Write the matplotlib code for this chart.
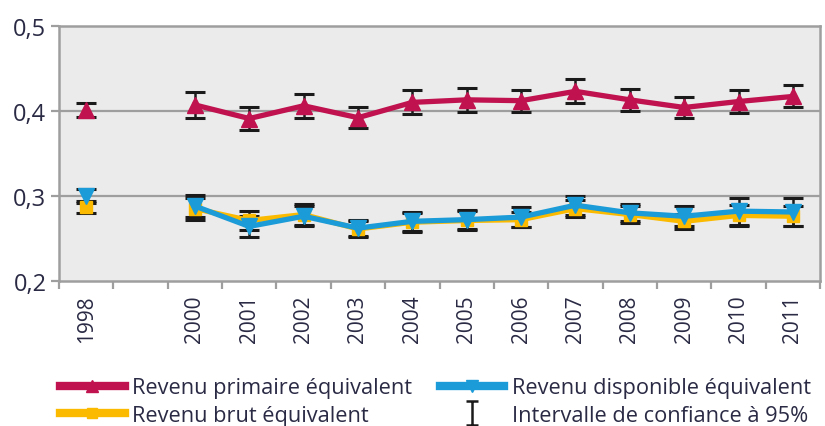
import numpy as np
import matplotlib.pyplot as plt
from matplotlib.lines import Line2D
from matplotlib.path import Path

plt.rcParams['font.family'] = ['Open Sans', 'DejaVu Sans']

nan = np.nan

# années (1999 absente : case vide)
years = ['1998', '', '2000', '2001', '2002', '2003', '2004', '2005',
         '2006', '2007', '2008', '2009', '2010', '2011']

primaire = [0.401, nan, 0.407, 0.391, 0.406, 0.392, 0.410, 0.413,
            0.412, 0.423, 0.413, 0.404, 0.411, 0.417]
primaire_err = [0.008, nan, 0.015, 0.013, 0.014, 0.012, 0.014, 0.014,
                0.013, 0.014, 0.013, 0.012, 0.013, 0.013]

brut = [0.287, nan, 0.285, 0.271, 0.278, 0.261, 0.269, 0.271,
        0.272, 0.285, 0.278, 0.270, 0.277, 0.276]
brut_err = [0.007, nan, 0.013, 0.011, 0.012, 0.009, 0.011, 0.011,
            0.009, 0.010, 0.010, 0.009, 0.012, 0.012]

dispo = [0.300, nan, 0.288, 0.264, 0.276, 0.262, 0.270, 0.272,
         0.275, 0.289, 0.280, 0.276, 0.282, 0.281]
dispo_err = [0.008, nan, 0.013, 0.012, 0.012, 0.009, 0.011, 0.011,
             0.012, 0.011, 0.010, 0.012, 0.016, 0.016]

labels = ['Revenu primaire équivalent', 'Revenu brut équivalent',
          'Revenu disponible équivalent', 'Intervalle de confiance à 95%']

c_red = '#C0124E'
c_yel = '#FBBA00'
c_blu = '#1B9BD7'
c_grid = '#9E9E9E'
c_txt = '#2A2A45'

fig = plt.figure(figsize=(8.25, 4.27), dpi=100)
ax = fig.add_axes([0.0715, 0.34, 0.9225, 0.597])
ax.set_facecolor('#EBEBEB')

x = np.arange(len(years))

# barres d'erreur sous les courbes
eb = dict(fmt='none', ecolor='#1A1A1A', elinewidth=1.8, capsize=7, capthick=2.2, zorder=2)
ax.errorbar(x, brut, yerr=brut_err, **eb)
ax.errorbar(x, dispo, yerr=dispo_err, **eb)
ax.errorbar(x, primaire, yerr=primaire_err, **eb)

ax.plot(x, brut, color=c_yel, lw=3.8, marker='s', ms=9, zorder=3)
ax.plot(x, dispo, color=c_blu, lw=3.8, marker='v', ms=11, zorder=4)
ax.plot(x, primaire, color=c_red, lw=3.8, marker='^', ms=11, zorder=4)

ax.set_xlim(-0.5, len(years) - 0.5)
ax.set_ylim(0.2, 0.5)
ax.set_yticks([0.2, 0.3, 0.4, 0.5])
ax.set_yticklabels(['0,2', '0,3', '0,4', '0,5'])
for yv in [0.3, 0.4]:
    ax.axhline(yv, color=c_grid, lw=1.6, zorder=1)

# graduations aux limites des catégories, libellés centrés
ax.set_xticks(np.arange(len(years) + 1) - 0.5)
ax.set_xticklabels([])
ax.set_xticks(x, minor=True)
ax.set_xticklabels(years, minor=True, rotation=90)
ax.tick_params(axis='x', which='minor', length=0, pad=10, labelsize=15, labelcolor=c_txt)
ax.tick_params(axis='x', which='major', length=6, width=1.6, color=c_grid)
ax.tick_params(axis='y', length=6, width=1.6, color=c_grid, labelsize=17, labelcolor=c_txt, pad=3)

for s in ax.spines.values():
    s.set_color(c_grid)
    s.set_linewidth(1.8)

# symbole de l'intervalle de confiance pour la légende
ibar = Path([(-0.5, 1), (0.5, 1), (0, 1), (0, -1), (-0.5, -1), (0.5, -1)],
            [Path.MOVETO, Path.LINETO, Path.MOVETO, Path.LINETO, Path.MOVETO, Path.LINETO])

handles = [
    Line2D([], [], color=c_red, lw=6, marker='^', ms=8),
    Line2D([], [], color=c_yel, lw=6, marker='s', ms=7),
    Line2D([], [], color=c_blu, lw=6, marker='v', ms=8),
    Line2D([], [], ls='none', marker=ibar, ms=17, mec='#1A1A1A', mew=1.8),
]
fig.legend(handles, labels, ncol=2, loc='lower left', bbox_to_anchor=(0.073, 0.0),
           frameon=False, fontsize=15.7, handlelength=2.95, handletextpad=0.36,
           columnspacing=1.27, labelspacing=0.3, borderpad=0, borderaxespad=0,
           labelcolor=c_txt)

plt.savefig('out.png', dpi=100)
